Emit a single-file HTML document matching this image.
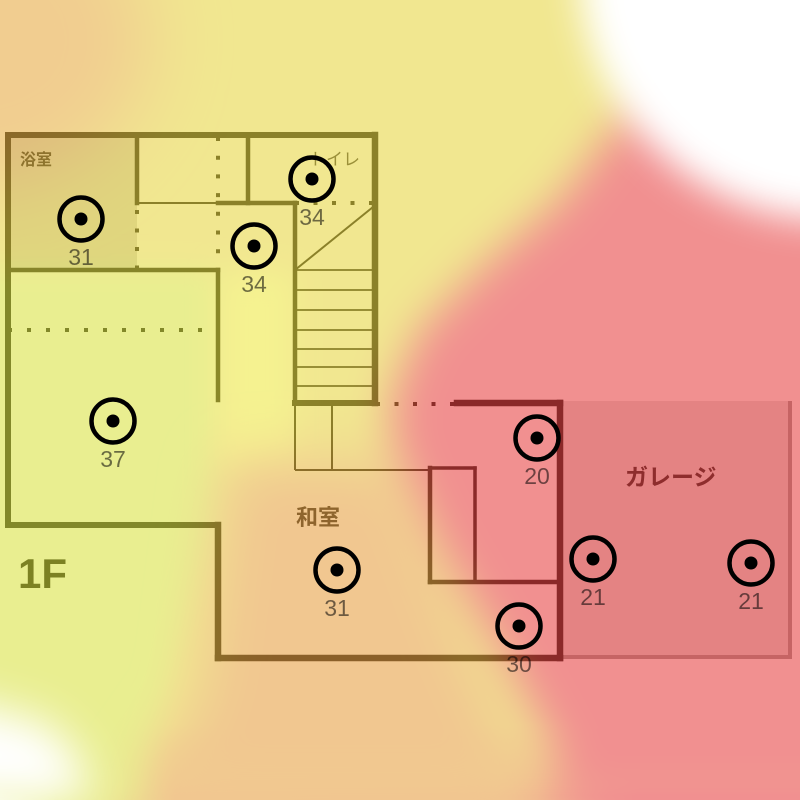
<!DOCTYPE html>
<html><head><meta charset="utf-8">
<style>
html,body{margin:0;padding:0;background:#fff;width:800px;height:800px;overflow:hidden;}
svg{display:block;position:absolute;left:0;top:0;}
.jp{font-family:"Liberation Sans","Noto Sans CJK JP",sans-serif;}
</style></head>
<body>
<svg width="800" height="800" viewBox="0 0 800 800" xmlns="http://www.w3.org/2000/svg">
<defs>
<filter id="b15" filterUnits="userSpaceOnUse" x="-300" y="-300" width="1400" height="1400"><feGaussianBlur stdDeviation="15"/></filter>
<filter id="b18" filterUnits="userSpaceOnUse" x="-300" y="-300" width="1400" height="1400"><feGaussianBlur stdDeviation="18"/></filter>
<filter id="b22" filterUnits="userSpaceOnUse" x="-300" y="-300" width="1400" height="1400"><feGaussianBlur stdDeviation="22"/></filter>
<filter id="b30" filterUnits="userSpaceOnUse" x="-300" y="-300" width="1400" height="1400"><feGaussianBlur stdDeviation="30"/></filter>
<filter id="b40" filterUnits="userSpaceOnUse" x="-300" y="-300" width="1400" height="1400"><feGaussianBlur stdDeviation="40"/></filter>
<linearGradient id="band" gradientUnits="userSpaceOnUse" x1="0" y1="0" x2="800" y2="0">
  <stop offset="0" stop-color="#ffffff"/>
  <stop offset="0.07" stop-color="rgb(205,218,0)"/>
  <stop offset="0.13" stop-color="rgb(208,205,0)"/>
  <stop offset="0.22" stop-color="rgb(225,127,0)"/>
  <stop offset="0.62" stop-color="rgb(225,120,0)"/>
  <stop offset="0.67" stop-color="rgb(225,95,0)"/>
  <stop offset="0.71" stop-color="rgb(225,60,0)"/>
  <stop offset="0.76" stop-color="rgb(225,15,0)"/>
  <stop offset="0.8" stop-color="rgb(225,0,0)"/>
  <stop offset="1" stop-color="rgb(225,0,0)"/>
</linearGradient>
<linearGradient id="vfade" gradientUnits="userSpaceOnUse" x1="0" y1="725" x2="0" y2="795">
  <stop offset="0" stop-color="#000"/>
  <stop offset="1" stop-color="#fff"/>
</linearGradient>
<mask id="bm" maskUnits="userSpaceOnUse" x="0" y="0" width="800" height="800">
  <rect x="0" y="725" width="800" height="75" fill="url(#vfade)"/>
</mask>
</defs>

<!-- base plan layer -->
<rect width="800" height="800" fill="#ffffff"/>
<rect x="8" y="135" width="129" height="135" fill="#e0e0e0"/>
<rect x="560" y="401" width="230" height="257" fill="#e8e8e8"/>
<line x1="790" y1="401" x2="790" y2="658" stroke="#b2b2b2" stroke-width="4"/>
<line x1="560" y1="657" x2="792" y2="657" stroke="#b2b2b2" stroke-width="4"/>

<g stroke="#4a4a4a" fill="none" stroke-linecap="square">
  <g stroke-width="6">
    <line x1="8" y1="135" x2="375" y2="135"/>
    <line x1="8" y1="135" x2="8" y2="525"/>
    <line x1="8" y1="525" x2="218" y2="525"/>
    <line x1="295" y1="403" x2="375" y2="403"/>
  </g>
  <g stroke-width="6.5">
    <line x1="375" y1="135" x2="375" y2="403"/>
    <line x1="218" y1="525" x2="218" y2="658"/>
    <line x1="218" y1="658" x2="560" y2="658"/>
    <line x1="560" y1="403" x2="560" y2="658"/>
    <line x1="457" y1="403" x2="560" y2="403"/>
  </g>
  <g stroke-width="4.5">
    <line x1="137" y1="135" x2="137" y2="203"/>
    <line x1="248" y1="135" x2="248" y2="203"/>
    <line x1="8" y1="270" x2="218" y2="270"/>
    <line x1="218" y1="270" x2="218" y2="400"/>
    <line x1="218" y1="203" x2="295" y2="203"/>
    <line x1="295" y1="203" x2="295" y2="403"/>
    <line x1="430" y1="582" x2="560" y2="582"/>
    <line x1="430" y1="468" x2="430" y2="582"/>
  </g>
  <g stroke-width="3.5">
    <line x1="430" y1="468" x2="475" y2="468"/>
    <line x1="475" y1="468" x2="475" y2="582"/>
  </g>
  <g stroke-width="2" stroke-linecap="butt">
    <line x1="137" y1="203" x2="218" y2="203"/>
    <line x1="295" y1="270" x2="373" y2="207"/>
    <line x1="295" y1="403" x2="295" y2="470"/>
    <line x1="332" y1="403" x2="332" y2="470"/>
    <line x1="295" y1="470" x2="430" y2="470"/>
  </g>
  <g stroke-width="1.8" stroke-linecap="butt">
    <line x1="295" y1="270" x2="374" y2="270"/>
    <line x1="295" y1="290" x2="374" y2="290"/>
    <line x1="295" y1="310" x2="374" y2="310"/>
    <line x1="295" y1="330" x2="374" y2="330"/>
    <line x1="295" y1="349" x2="374" y2="349"/>
    <line x1="295" y1="367" x2="374" y2="367"/>
    <line x1="295" y1="386" x2="374" y2="386"/>
  </g>
  <g stroke-width="4" stroke-linecap="butt">
    <line x1="137" y1="210" x2="137" y2="272" stroke-dasharray="4 14.5"/>
    <line x1="218" y1="137" x2="218" y2="255" stroke-dasharray="4 14.7"/>
    <line x1="8" y1="330" x2="220" y2="330" stroke-dasharray="4 15"/>
    <line x1="295" y1="203" x2="375" y2="203" stroke-dasharray="4 14.5"/>
    <line x1="376" y1="404" x2="456" y2="404" stroke-dasharray="4 14.5"/>
  </g>
</g>

<!-- room labels (under heat overlay) -->
<g class="jp" fill="#505050">
  <text x="20" y="165" font-size="16" font-weight="bold">浴室</text>
  <text x="309" y="165" font-size="17" fill="#666">トイレ</text>
  <text x="296" y="525" font-size="22" font-weight="bold">和室</text>
  <text x="625" y="485" font-size="23" font-weight="bold">ガレージ</text>
  <text x="18" y="588" font-size="42" font-weight="bold" fill="#3e3e3e">1F</text>
</g>

<!-- heat overlay -->
<g opacity="0.43">
  <rect x="0" y="0" width="800" height="800" fill="rgb(225,201,0)"/>
  <rect x="0" y="725" width="800" height="75" fill="url(#band)" mask="url(#bm)"/>
  <ellipse cx="-30" cy="40" rx="180" ry="150" fill="rgb(225,140,0)" filter="url(#b40)"/>
  <polygon points="-50,270 218,270 218,530 180,650 140,800 -50,800" fill="rgb(205,218,0)" filter="url(#b15)"/>
  <rect x="220" y="272" width="74" height="196" fill="rgb(232,226,0)" filter="url(#b15)"/>
  <polygon points="230,462 400,462 470,650 540,800 130,800 200,700" fill="rgb(225,127,0)" filter="url(#b30)"/>
  <polygon points="760,-50 680,60 613,130 560,200 480,270 420,330 390,400 395,450 440,550 500,650 560,760 567,800 900,800 900,-50" fill="rgb(225,0,0)" filter="url(#b22)"/>
</g>

<!-- white corners -->
<circle cx="830" cy="-30" r="250" fill="#ffffff" filter="url(#b18)"/>
<path d="M-100,712 A100,100 0 0 1 0,712 A88,88 0 0 1 88,800 L-100,800 Z" fill="#ffffff" filter="url(#b22)"/>

<!-- markers -->
<g fill="none" stroke="#000" stroke-width="4.5">
  <circle cx="81" cy="219" r="21.5"/>
  <circle cx="312" cy="179" r="21.5"/>
  <circle cx="254" cy="246" r="21.5"/>
  <circle cx="113" cy="421" r="21.5"/>
  <circle cx="537" cy="438" r="21.5"/>
  <circle cx="337" cy="570" r="21.5"/>
  <circle cx="519" cy="626" r="21.5"/>
  <circle cx="593" cy="559" r="21.5"/>
  <circle cx="751" cy="563" r="21.5"/>
</g>
<g fill="#000">
  <circle cx="81" cy="219" r="6.5"/>
  <circle cx="312" cy="179" r="6.5"/>
  <circle cx="254" cy="246" r="6.5"/>
  <circle cx="113" cy="421" r="6.5"/>
  <circle cx="537" cy="438" r="6.5"/>
  <circle cx="337" cy="570" r="6.5"/>
  <circle cx="519" cy="626" r="6.5"/>
  <circle cx="593" cy="559" r="6.5"/>
  <circle cx="751" cy="563" r="6.5"/>
</g>
<g font-family="Liberation Sans, sans-serif" font-size="23" fill="rgba(0,0,0,0.55)" text-anchor="middle">
  <text x="81" y="265">31</text>
  <text x="312" y="225">34</text>
  <text x="254" y="292">34</text>
  <text x="113" y="467">37</text>
  <text x="537" y="484">20</text>
  <text x="337" y="616">31</text>
  <text x="519" y="672">30</text>
  <text x="593" y="605">21</text>
  <text x="751" y="609">21</text>
</g>
</svg>
</body></html>
